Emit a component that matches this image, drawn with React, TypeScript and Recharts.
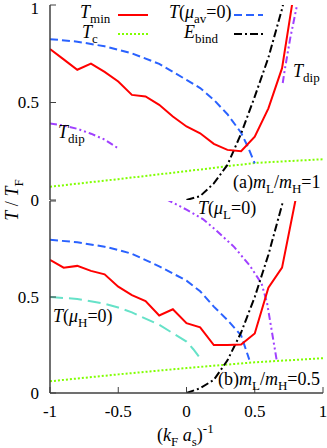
import React from "react";
import { LineChart, Line, XAxis, YAxis } from "recharts";

// ---------- Panel (a): m_L/m_H = 1 ----------
const aTminX = [-1, -0.9, -0.8, -0.7, -0.6, -0.5, -0.4, -0.3, -0.2, -0.1, 0, 0.1, 0.2, 0.3, 0.4, 0.5, 0.6, 0.7, 0.8];
const aTminY = [0.774, 0.721, 0.668, 0.699, 0.657, 0.608, 0.539, 0.531, 0.488, 0.428, 0.377, 0.342, 0.288, 0.257, 0.25, 0.325, 0.47, 0.676, 1.12];
const aMuAvX = [-1, -0.8, -0.6, -0.4, -0.2, 0, 0.1, 0.2, 0.3, 0.4, 0.45, 0.5];
const aMuAvY = [0.825, 0.812, 0.788, 0.752, 0.698, 0.616, 0.574, 0.514, 0.44, 0.345, 0.272, 0.188];
const aTcX = [-1, -0.5, 0, 0.5, 1];
const aTcY = [0.068, 0.107, 0.148, 0.19, 0.209];
const aEbX = [0, 0.1, 0.2, 0.3, 0.4, 0.5, 0.6, 0.7, 0.75];
const aEbY = [0, 0.02, 0.085, 0.18, 0.34, 0.53, 0.73, 0.98, 1.13];
const aDipLX = [-1, -0.9, -0.8, -0.7, -0.6, -0.5];
const aDipLY = [0.392, 0.382, 0.365, 0.34, 0.31, 0.265];
const aDipRX = [0.705, 0.72, 0.76, 0.81];
const aDipRY = [0.6, 0.668, 0.83, 1.0];

// ---------- Panel (b): m_L/m_H = 0.5 ----------
const bTminX = [-1, -0.9, -0.8, -0.7, -0.6, -0.5, -0.4, -0.3, -0.2, -0.1, 0, 0.1, 0.2, 0.3, 0.4, 0.5, 0.6, 0.7, 0.8];
const bTminY = [0.693, 0.653, 0.662, 0.636, 0.618, 0.554, 0.51, 0.479, 0.404, 0.436, 0.364, 0.342, 0.25, 0.25, 0.252, 0.31, 0.549, 0.653, 1.01];
const bMuAvX = [-1, -0.8, -0.6, -0.5, -0.4, -0.2, 0, 0.1, 0.2, 0.3, 0.4, 0.46];
const bMuAvY = [0.798, 0.785, 0.762, 0.745, 0.725, 0.66, 0.585, 0.53, 0.45, 0.38, 0.3, 0.174];
const bMuHX = [-1, -0.8, -0.6, -0.5, -0.4, -0.2, 0, 0.05, 0.11];
const bMuHY = [0.5, 0.49, 0.465, 0.445, 0.42, 0.355, 0.268, 0.228, 0.172];
const bTcX = [-1, -0.5, 0, 0.5, 1];
const bTcY = [0.061, 0.097, 0.13, 0.16, 0.181];
const bEbX = [0, 0.1, 0.2, 0.3, 0.4, 0.5, 0.6, 0.7, 0.72];
const bEbY = [0, 0.025, 0.068, 0.17, 0.315, 0.5, 0.72, 0.98, 1.04];
const bMuLX = [-0.15, 0, 0.12, 0.22, 0.35, 0.465, 0.55, 0.59, 0.66];
const bMuLY = [1.01, 0.955, 0.906, 0.845, 0.76, 0.662, 0.57, 0.47, 0.174];

// ---------- Axis ticks ----------
const xTicks = [-1, -0.5, 0, 0.5, 1];
const yTicks = [0, 0.5, 1];

const zip = (xs: number[], ys: number[]) => xs.map((x, i) => ({ x, y: ys[i] }));

const FONT = "'Liberation Serif', 'Times New Roman', serif";
const FRAME = "#404040";
const TICK_LEN = 6;

const fmt = (v: number) => String(v);
const tickTextStyle: React.CSSProperties = { fontFamily: FONT, fontSize: 17 };

const BottomTick = (p: any) => {
  const { x, y, payload, showLabel } = p;
  return (
    <g>
      <line x1={x} x2={x} y1={y} y2={y - TICK_LEN} stroke={FRAME} strokeWidth={1} />
      {showLabel && (
        <text x={x} y={y + 24} textAnchor="middle" style={tickTextStyle} fill="#000">
          {fmt(payload.value)}
        </text>
      )}
    </g>
  );
};
const TopTick = (p: any) => {
  const { x, y } = p;
  return <line x1={x} x2={x} y1={y} y2={y + TICK_LEN} stroke={FRAME} strokeWidth={1} />;
};
const LeftTick = (p: any) => {
  const { x, y, payload, hideOne } = p;
  const show = !(hideOne && payload.value === 1);
  const nudge = payload.value === 1 ? 3 : 0;
  return (
    <g>
      <line x1={x} x2={x + TICK_LEN} y1={y} y2={y} stroke={FRAME} strokeWidth={1} />
      {show && (
        <text x={x - 11} y={y + nudge} dy="0.35em" textAnchor="end" style={tickTextStyle} fill="#000">
          {fmt(payload.value)}
        </text>
      )}
    </g>
  );
};
const RightTick = (p: any) => {
  const { x, y } = p;
  return <line x1={x} x2={x - TICK_LEN} y1={y} y2={y} stroke={FRAME} strokeWidth={1} />;
};

const axisLine = { stroke: FRAME, strokeWidth: 1.5 };

const RED = "#ff0000";
const BLUE = "#2a62ff";
const GREEN = "#80ff00";
const PURPLE = "#a040ff";
const CYAN = "#66e2c8";
const BLACK = "#000000";

function renderAxes(bottomLabels: boolean, hideOne: boolean, bottomHeight: number) {
  return [
    <XAxis
      key="xb"
      xAxisId="b"
      type="number"
      dataKey="x"
      domain={[-1, 1]}
      ticks={xTicks}
      allowDataOverflow
      orientation="bottom"
      height={bottomHeight}
      tickSize={0}
      tickMargin={0}
      axisLine={axisLine}
      tickLine={false}
      tick={(p: any) => <BottomTick {...p} showLabel={bottomLabels} />}
      interval={0}
    />,
    <XAxis
      key="xt"
      xAxisId="t"
      type="number"
      dataKey="x"
      domain={[-1, 1]}
      ticks={xTicks}
      allowDataOverflow
      orientation="top"
      height={0}
      tickSize={0}
      tickMargin={0}
      axisLine={axisLine}
      tickLine={false}
      tick={(p: any) => <TopTick {...p} />}
      interval={0}
    />,
    <YAxis
      key="yl"
      yAxisId="l"
      type="number"
      domain={[0, 1]}
      ticks={yTicks}
      allowDataOverflow
      orientation="left"
      width={50}
      tickSize={0}
      tickMargin={0}
      axisLine={axisLine}
      tickLine={false}
      tick={(p: any) => <LeftTick {...p} hideOne={hideOne} />}
      interval={0}
    />,
    <YAxis
      key="yr"
      yAxisId="r"
      type="number"
      domain={[0, 1]}
      ticks={yTicks}
      allowDataOverflow
      orientation="right"
      width={0}
      tickSize={0}
      tickMargin={0}
      axisLine={axisLine}
      tickLine={false}
      tick={(p: any) => <RightTick {...p} />}
      interval={0}
    />,
  ];
}

const series = (
  key: string,
  data: { x: number; y: number }[],
  color: string,
  dash?: string,
  width = 2
) => (
  <Line
    key={key}
    xAxisId="b"
    yAxisId="l"
    data={data}
    dataKey="y"
    type="linear"
    stroke={color}
    strokeWidth={width}
    strokeDasharray={dash}
    dot={false}
    activeDot={false}
    isAnimationActive={false}
  />
);

const DASH_BLUE = "8 4";
const DOT_GREEN = "2 2";
const DASH_BLACK = "8 3 2 3";
const DASH_PURPLE = "7 3 2 3 2 3";
const DASH_CYAN = "13 6";

const labelStyle = { fontFamily: FONT, fontSize: 18, fill: "#000" } as const;

export default function App() {
  return (
    <div style={{ position: "absolute", left: 0, top: 0, width: 327, height: 448, background: "#fff" }}>
      <div style={{ position: "absolute", left: 0, top: 0 }}>
        <LineChart width={327} height={214} margin={{ top: 5, right: 4, bottom: 14, left: 0 }}>
          {renderAxes(false, false, 0)}
          {series("atc", zip(aTcX, aTcY), GREEN, DOT_GREEN)}
          {series("amu", zip(aMuAvX, aMuAvY), BLUE, DASH_BLUE)}
          {series("adipl", zip(aDipLX, aDipLY), PURPLE, DASH_PURPLE)}
          {series("adipr", zip(aDipRX, aDipRY), PURPLE, DASH_PURPLE)}
          {series("aeb", zip(aEbX, aEbY), BLACK, DASH_BLACK)}
          {series("atmin", zip(aTminX, aTminY), RED)}
        </LineChart>
      </div>
      <div style={{ position: "absolute", left: 0, top: 196 }}>
        <LineChart width={327} height={252} margin={{ top: 5, right: 4, bottom: 0, left: 0 }}>
          {renderAxes(true, true, 55)}
          {series("btc", zip(bTcX, bTcY), GREEN, DOT_GREEN)}
          {series("bmuh", zip(bMuHX, bMuHY), CYAN, DASH_CYAN)}
          {series("bmu", zip(bMuAvX, bMuAvY), BLUE, DASH_BLUE)}
          {series("bmul", zip(bMuLX, bMuLY), PURPLE, DASH_PURPLE)}
          {series("beb", zip(bEbX, bEbY), BLACK, DASH_BLACK)}
          {series("btmin", zip(bTminX, bTminY), RED)}
        </LineChart>
      </div>
      <svg
        width={327}
        height={448}
        style={{ position: "absolute", left: 0, top: 0, pointerEvents: "none" }}
      >
        {/* Legend */}
        <text x={80} y={18} {...labelStyle}>
          <tspan fontStyle="italic">T</tspan>
          <tspan fontSize={13} dy={5}>min</tspan>
        </text>
        <line x1={118} x2={148} y1={15} y2={15} stroke={RED} strokeWidth={2} />
        <text x={82} y={38} {...labelStyle}>
          <tspan fontStyle="italic">T</tspan>
          <tspan fontSize={13} dy={5}>c</tspan>
        </text>
        <line x1={118} x2={148} y1={34} y2={34} stroke={GREEN} strokeWidth={2} strokeDasharray={DOT_GREEN} />
        <text x={169} y={18} {...labelStyle}>
          <tspan fontStyle="italic">T</tspan>
          <tspan>(</tspan>
          <tspan fontStyle="italic">μ</tspan>
          <tspan fontSize={13} dy={5}>av</tspan>
          <tspan dy={-5}>=0)</tspan>
        </text>
        <line x1={234} x2={263} y1={15} y2={15} stroke={BLUE} strokeWidth={2} strokeDasharray={DASH_BLUE} />
        <text x={184} y={38} {...labelStyle}>
          <tspan fontStyle="italic">E</tspan>
          <tspan fontSize={13} dy={5}>bind</tspan>
        </text>
        <line x1={234} x2={263} y1={34} y2={34} stroke={BLACK} strokeWidth={2} strokeDasharray={DASH_BLACK} />

        {/* Panel (a) annotations */}
        <text x={58} y={138} {...labelStyle}>
          <tspan fontStyle="italic">T</tspan>
          <tspan fontSize={13} dy={5}>dip</tspan>
        </text>
        <text x={293} y={77} {...labelStyle}>
          <tspan fontStyle="italic">T</tspan>
          <tspan fontSize={13} dy={5}>dip</tspan>
        </text>
        <text x={233} y={188} {...labelStyle}>
          <tspan>(a)</tspan>
          <tspan fontStyle="italic">m</tspan>
          <tspan fontSize={13} dy={5}>L</tspan>
          <tspan dy={-5}>/</tspan>
          <tspan fontStyle="italic">m</tspan>
          <tspan fontSize={13} dy={5}>H</tspan>
          <tspan dy={-5}>=1</tspan>
        </text>

        {/* Panel (b) annotations */}
        <text x={198} y={214} {...labelStyle}>
          <tspan fontStyle="italic">T</tspan>
          <tspan>(</tspan>
          <tspan fontStyle="italic">μ</tspan>
          <tspan fontSize={13} dy={5}>L</tspan>
          <tspan dy={-5}>=0)</tspan>
        </text>
        <text x={53} y={322} {...labelStyle}>
          <tspan fontStyle="italic">T</tspan>
          <tspan>(</tspan>
          <tspan fontStyle="italic">μ</tspan>
          <tspan fontSize={13} dy={5}>H</tspan>
          <tspan dy={-5}>=0)</tspan>
        </text>
        <text x={218} y={385} {...labelStyle}>
          <tspan>(b)</tspan>
          <tspan fontStyle="italic">m</tspan>
          <tspan fontSize={13} dy={5}>L</tspan>
          <tspan dy={-5}>/</tspan>
          <tspan fontStyle="italic">m</tspan>
          <tspan fontSize={13} dy={5}>H</tspan>
          <tspan dy={-5}>=0.5</tspan>
        </text>

        {/* Axis titles */}
        <text x={157} y={441} {...labelStyle}>
          <tspan>(</tspan>
          <tspan fontStyle="italic">k</tspan>
          <tspan fontSize={13} dy={5}>F</tspan>
          <tspan dy={-5}> </tspan>
          <tspan fontStyle="italic">a</tspan>
          <tspan fontSize={13} dy={5}>s</tspan>
          <tspan dy={-5}>)</tspan>
          <tspan fontSize={13} dy={-8}>-1</tspan>
        </text>
        <text transform="translate(18,200) rotate(-90)" textAnchor="middle" {...labelStyle}>
          <tspan fontStyle="italic">T</tspan>
          <tspan> / </tspan>
          <tspan fontStyle="italic">T</tspan>
          <tspan fontSize={13} dy={5}>F</tspan>
        </text>
      </svg>
    </div>
  );
}
